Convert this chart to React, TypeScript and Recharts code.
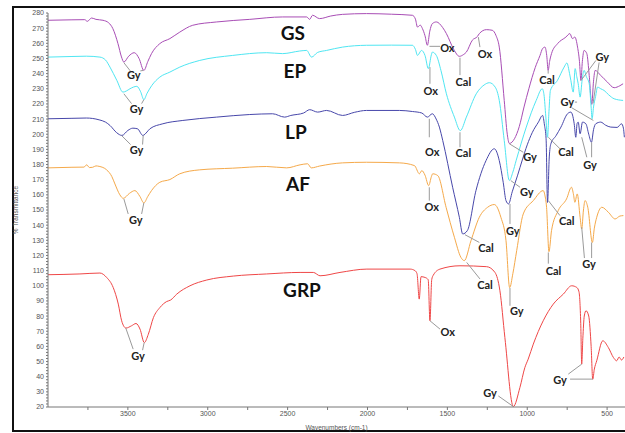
import { LineChart, Line, XAxis, YAxis, ReferenceLine, ReferenceDot } from 'recharts';

// FTIR spectra, [wavenumber cm-1, % transmittance] (offset stacked traces)
const GS: [number, number][] = [
  [4000, 275.2], [3850, 275.5], [3770, 275.6], [3754, 274.5], [3727, 276.7], [3700, 275.8], [3656, 275.2],
  [3620, 273.5], [3594, 269.7], [3562, 259.8], [3540, 251], [3525, 247.6], [3495, 251.5], [3460, 253.8],
  [3430, 250], [3400, 242.1], [3375, 248], [3352, 253.2], [3300, 259.8], [3237, 263.1], [3175, 267.4],
  [3094, 271.9], [2944, 274.1], [2737, 275.8], [2531, 277.4], [2381, 277.4], [2362, 275.8], [2344, 278.5],
  [2300, 276.3], [2230, 278], [2156, 279.1], [2006, 279.6], [1850, 279.2], [1719, 278.5], [1700, 276],
  [1687, 270.7], [1670, 272], [1656, 269.7], [1640, 265], [1625, 258.7], [1610, 268], [1594, 273],
  [1569, 274.1], [1530, 270.5], [1506, 266.4], [1460, 256], [1425, 251.4], [1400, 252.5], [1381, 254.2],
  [1344, 262], [1312, 264.5], [1300, 266.4], [1256, 269], [1219, 268.6], [1195, 265], [1175, 257.5],
  [1144, 222.3], [1125, 200], [1112, 193.9], [1080, 197], [1050, 205], [1020, 218], [990, 230],
  [950, 244], [920, 252], [904, 256.5], [889, 257.5], [878, 252], [869, 242.1], [860, 248], [848, 253.2],
  [810, 259.8], [758, 264.1], [733, 266.4], [717, 263.1], [702, 264.1], [685, 257.5], [673, 248],
  [664, 235.5], [655, 248], [644, 255.3], [627, 253.2], [612, 238.8], [596, 219.7], [585, 235],
  [575, 242.1], [540, 238.8], [498, 234.4], [456, 230.7], [420, 232], [400, 233.3],
];

const EP: [number, number][] = [
  [4000, 250.9], [3850, 251.3], [3760, 251.5], [3675, 250.9], [3640, 249], [3612, 244.3], [3569, 235.5],
  [3531, 227.8], [3510, 228.5], [3487, 230], [3444, 231.6], [3420, 228], [3400, 222.8], [3380, 227],
  [3350, 232.2], [3300, 237.7], [3237, 241], [3175, 244.3], [3050, 248.7], [2844, 252], [2631, 253.8],
  [2531, 253.2], [2425, 254.9], [2381, 255.3], [2350, 250.9], [2312, 254], [2256, 255.3], [2156, 257.5],
  [2006, 258.7], [1850, 258.8], [1719, 258.7], [1700, 256], [1687, 252], [1662, 255.3], [1640, 252],
  [1619, 243.3], [1600, 252.5], [1594, 254.2], [1569, 252], [1540, 242], [1506, 226.7], [1456, 211.3],
  [1419, 202.4], [1381, 211.3], [1319, 226.7], [1270, 232.5], [1237, 234], [1200, 231], [1175, 222.3],
  [1144, 195.9], [1112, 169.5], [1090, 175], [1069, 182.8], [1006, 204.7], [944, 222.3], [906, 230],
  [895, 226], [884, 212], [873, 198], [864, 215], [855, 228.9], [811, 235.5], [769, 244.3], [752, 247],
  [735, 240], [727, 235.5], [712, 227.8], [700, 243.3], [690, 238], [681, 233.3], [669, 224.5],
  [656, 236], [644, 242.1], [630, 238], [612, 233.3], [600, 218], [594, 210.2], [585, 218], [572, 225],
  [560, 231.1], [540, 230], [519, 228.9], [490, 226], [456, 223.4], [400, 222.3],
];

const LP: [number, number][] = [
  [4000, 210.2], [3850, 210.5], [3760, 210.7], [3680, 209.5], [3640, 208], [3612, 205.8], [3570, 201],
  [3537, 199.2], [3500, 202.5], [3469, 204], [3440, 203.6], [3406, 199.2], [3380, 201.5], [3362, 203.6],
  [3281, 206.9], [3156, 209.1], [2944, 211.3], [2737, 213], [2594, 213.5], [2519, 211.3], [2480, 212.4],
  [2400, 214], [2362, 216.2], [2312, 214.6], [2256, 215.7], [2156, 212.4], [2080, 214.5], [2006, 215.7],
  [1800, 215.7], [1719, 215], [1660, 214], [1625, 211.3], [1594, 213.5], [1570, 210], [1550, 204.7],
  [1529, 195.9], [1467, 165], [1425, 145.2], [1404, 134.2], [1375, 136.4], [1321, 162.8], [1258, 182.6],
  [1206, 190.4], [1175, 182.6], [1150, 168], [1133, 156.2], [1117, 154], [1094, 162], [1060, 173],
  [1031, 183], [1000, 193], [969, 201], [930, 208], [904, 212.4], [892, 206], [882, 197], [873, 155],
  [862, 185], [852, 193.7], [820, 199], [789, 204.7], [748, 213.5], [727, 214.6], [706, 206.9],
  [696, 198], [688, 207], [681, 208], [669, 200.3], [654, 208], [633, 206.9], [615, 200], [598, 194.7],
  [585, 203], [571, 206.9], [540, 208], [510, 206], [477, 204.7], [437, 204.5], [410, 206.9], [398, 204],
  [392, 198],
];

const AF: [number, number][] = [
  [4000, 177.8], [3850, 178.2], [3775, 178.3], [3758, 179.8], [3740, 178], [3720, 178.2], [3700, 179.1],
  [3680, 178.8], [3633, 176.5], [3600, 172], [3581, 167.2], [3550, 160], [3529, 157.7], [3490, 161],
  [3456, 162.8], [3425, 159], [3400, 154.7], [3375, 159], [3352, 162.8], [3300, 168.3], [3237, 170.1],
  [3175, 173.9], [3050, 176.5], [2844, 177.6], [2631, 178.7], [2506, 177.8], [2422, 179.8], [2375, 180.5],
  [2352, 177.8], [2300, 179], [2156, 181.1], [2006, 181.5], [1800, 181.1], [1706, 179.3], [1675, 173.9],
  [1660, 176], [1640, 173], [1617, 166.1], [1600, 172], [1592, 173.9], [1560, 172.7], [1508, 151.8],
  [1456, 132], [1415, 118.7], [1394, 116.6], [1352, 129.8], [1300, 145.2], [1248, 151.8], [1206, 153.6],
  [1165, 145.2], [1133, 129.8], [1110, 98.7], [1090, 108], [1066, 123.2], [1025, 147.4], [962, 156.2],
  [900, 162.8], [890, 160], [879, 151.8], [864, 122.5], [848, 136.4], [806, 149.6], [754, 157.3],
  [723, 165], [710, 160], [702, 155.1], [687, 160.6], [669, 145.2], [659, 137.5], [648, 150], [638, 156.2],
  [621, 151.8], [592, 128.6], [580, 138], [565, 145.2], [533, 151.8], [492, 148.5], [450, 144.1],
  [420, 146], [398, 146.3],
];

const GRP: [number, number][] = [
  [4000, 107.3], [3800, 107.8], [3675, 108.4], [3633, 105.5], [3592, 98.9], [3560, 87.9], [3539, 76.9],
  [3512, 72.1], [3477, 73.6], [3449, 75.1], [3424, 71.4], [3397, 62.5], [3372, 68], [3340, 79],
  [3299, 85.7], [3257, 89.6], [3232, 90.6], [3194, 94.5], [3111, 100], [3006, 103.8], [2840, 106.4],
  [2631, 107.8], [2422, 108.8], [2339, 108.8], [2297, 106.6], [2172, 108.8], [2004, 111], [1733, 111],
  [1703, 110], [1690, 108], [1676, 91.2], [1665, 106], [1640, 105.5], [1620, 104], [1609, 76.9],
  [1598, 104], [1588, 107], [1546, 111], [1421, 113.2], [1254, 112.6], [1202, 108.8], [1171, 96.7],
  [1140, 65.9], [1087, 20.3], [1046, 32.8], [1015, 46], [994, 51.6], [962, 61.5], [900, 76.9],
  [837, 87.9], [774, 94.5], [722, 100], [690, 98.9], [676, 96], [665, 75], [659, 48.3], [652, 65],
  [643, 80], [632, 83.5], [615, 80], [600, 60], [590, 38.3], [580, 45], [565, 50.5], [527, 63.7],
  [492, 59.2], [460, 52.6], [440, 50.5], [425, 53], [410, 51], [395, 53],
];

// trace names placed over the flat region
const NAMES: [string, number, number][] = [
  ['GS', 2467, 267.2], ['EP', 2454, 242.1], ['LP', 2448, 201.8], ['AF', 2435, 167.4], ['GRP', 2410, 97.4],
];

// band assignments: [text, wavenumber, T]
const TAGS: [string, number, number][] = [
  ['Gy', 3463, 239.5], ['Gy', 3446, 216.8], ['Gy', 3446, 189.9], ['Gy', 3450, 143.6], ['Gy', 3436, 53.8],
  ['Ox', 1500, 257.1], ['Cal', 1400, 234.9], ['Ox', 1264, 253.6], ['Ox', 1604, 228.9], ['Cal', 1400, 188.1],
  ['Ox', 1594, 188.8], ['Ox', 1598, 152.2], ['Cal', 1258, 125.3], ['Cal', 1264, 100.7], ['Ox', 1498, 69.6],
  ['Gy', 1233, 29.5], ['Gy', 795, 37.9], ['Gy', 982, 185.3], ['Gy', 1003, 162.4], ['Gy', 1091, 136.4],
  ['Gy', 1066, 83.5], ['Cal', 876, 236], ['Cal', 757, 188.6], ['Cal', 753, 143], ['Cal', 836, 110],
  ['Gy', 530, 251.4], ['Gy', 749, 221.8], ['Gy', 607, 180], ['Gy', 613, 114.4],
];

// leader lines: [wn1, T1, wn2, T2]
const LEADERS: [number, number, number, number][] = [
  [3525, 247.2, 3485, 241.8], [3403, 242.1, 3422, 241.8],
  [3525, 226.7, 3477, 220.2], [3400, 222.8, 3414, 220.2],
  [3540, 199.2, 3483, 193.2], [3404, 199.2, 3408, 193.2],
  [3525, 157.3, 3498, 147.4], [3400, 154.7, 3414, 147.4],
  [3513, 72.1, 3467, 58.2], [3398, 62.5, 3408, 57.5],
  [1612, 258, 1546, 258], [1421, 250.5, 1421, 239], [1306, 264.1, 1296, 257.5],
  [1609, 244.3, 1609, 233.3], [1421, 201.3, 1421, 191.4], [1613, 210.2, 1613, 198],
  [1613, 165, 1613, 156.2], [1390, 133.7, 1300, 128.6], [1379, 115.4, 1296, 104.5],
  [1609, 76.9, 1546, 71.4], [1087, 20.3, 1181, 27.3],
  [659, 48.3, 743, 41.7], [590, 38.4, 732, 38.4],
  [1112, 193.7, 1025, 188.1], [1103, 169.4, 1045, 165], [1108, 154, 1108, 140.8], [1108, 98.5, 1108, 86.8],
  [869, 242.1, 869, 240], [868, 198, 795, 190.4], [868, 156.2, 795, 146.3], [868, 122, 868, 114.6],
  [663, 235.5, 570, 248.7], [588, 220.3, 550, 247.4],
  [702, 221.2, 688, 221.2], [722, 217.5, 586, 209.1],
  [659, 198, 627, 184.8], [597, 194.7, 597, 184.8],
  [659, 138.6, 642, 118.3], [597, 128.6, 597, 118.3],
];

const X_TICKS = [500, 750, 1000, 1250, 1500, 1750, 2000, 2250, 2500, 2750, 3000, 3250, 3500, 3750];
const Y_TICKS = Array.from({ length: 131 }, (_, i) => 20 + i * 2);

const SERIES = [
  { key: 'GS', data: GS, color: '#a84db5' },
  { key: 'EP', data: EP, color: '#4fe6f2' },
  { key: 'LP', data: LP, color: '#4747aa' },
  { key: 'AF', data: AF, color: '#f5a94a' },
  { key: 'GRP', data: GRP, color: '#ef4747' },
];

const tickStyle = { fontSize: 7, fill: '#555', fontFamily: 'Liberation Sans, Arial, sans-serif' };

const textShape = (t: string, size: number, weight: string | number, color: string) => (p: any) => (
  <text
    x={p.cx}
    y={p.cy}
    textAnchor="middle"
    dominantBaseline="central"
    fontSize={size}
    fontWeight={weight}
    fill={color}
    fontFamily="Lato, 'Open Sans', sans-serif"
  >
    {t}
  </text>
);

export default function App() {
  return (
    <div style={{ position: 'absolute', left: 0, top: 0, width: 625, height: 433, overflow: 'hidden', background: '#fff' }}>
      <div
        style={{
          position: 'absolute', left: 12, top: 6, width: 700, height: 426,
          border: '2px solid #111', boxSizing: 'border-box',
        }}
      />
      <div style={{ position: 'absolute', left: 0, top: 0 }}>
        <LineChart width={625} height={433} margin={{ top: 13, right: 0, bottom: 0, left: 0 }}>
          <XAxis
            type="number"
            dataKey="x"
            reversed
            domain={[388, 4000]}
            ticks={X_TICKS}
            interval={0}
            allowDataOverflow
            height={26}
            tick={tickStyle}
            tickSize={3}
            tickMargin={1}
            tickFormatter={(v: number) => (v % 500 === 0 ? String(v) : '')}
            stroke="#777"
            label={{ value: 'Wavenumbers (cm-1)', position: 'insideBottom', offset: 3, style: { ...tickStyle, fontSize: 6.5 } }}
          />
          <YAxis
            type="number"
            domain={[20, 280]}
            ticks={Y_TICKS}
            interval={0}
            allowDataOverflow
            width={48}
            tick={tickStyle}
            tickSize={2}
            tickMargin={2}
            tickFormatter={(v: number) => (v % 10 === 0 ? String(v) : '')}
            stroke="#777"
            label={{
              value: '% Transmittance', angle: -90, position: 'insideLeft', offset: 16,
              style: { ...tickStyle, fontSize: 6.5, textAnchor: 'middle' },
            }}
          />
          {SERIES.map((s) => (
            <Line
              key={s.key}
              data={s.data.map(([x, y]) => ({ x, y }))}
              dataKey="y"
              type="monotone"
              stroke={s.color}
              strokeWidth={1}
              dot={false}
              activeDot={false}
              isAnimationActive={false}
            />
          ))}
          {LEADERS.map(([x1, y1, x2, y2], i) => (
            <ReferenceLine
              key={`l${i}`}
              segment={[{ x: x1, y: y1 }, { x: x2, y: y2 }]}
              stroke="#9a9a9a"
              strokeWidth={1}
            />
          ))}
          {TAGS.map(([t, x, y], i) => (
            <ReferenceDot key={`t${i}`} x={x} y={y} r={0} shape={textShape(t, 11, 'bold', '#222')} />
          ))}
          {NAMES.map(([t, x, y]) => (
            <ReferenceDot key={t} x={x} y={y} r={0} shape={textShape(t, 19, 'bold', '#111')} />
          ))}
        </LineChart>
      </div>
    </div>
  );
}
